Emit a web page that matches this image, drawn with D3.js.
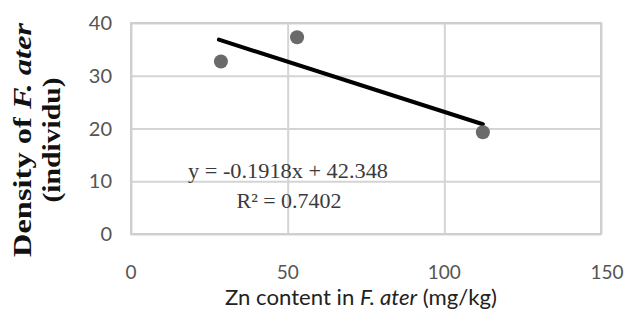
<!DOCTYPE html>
<html>
<head>
<meta charset="utf-8">
<script src="https://cdn.jsdelivr.net/npm/d3@7"></script>
<style>
  body { margin: 0; background: #fff; }
  svg { display: block; }
</style>
</head>
<body>
<svg></svg>
<script>
// DATA ////////////////////////////////////////////////////////////////////////
const znContent = [28.7, 53, 112.3];   // mg/kg
const density = [32.7, 37.3, 19.3];    // individu
const xTicks = [0, 50, 100, 150];
const yTicks = [0, 10, 20, 30, 40];
const slope = -0.1918;
const intercept = 42.348;
const eqLabel = 'y = -0.1918x + 42.348';
const r2Label = 'R² = 0.7402';

// SET PARAMETERS //////////////////////////////////////////////////////////////
const svg = d3.select('svg').attr('width', 643).attr('height', 330);
const margin = { top: 23, right: 42, bottom: 96, left: 131 };
const width = 643 - margin.left - margin.right;
const height = 330 - margin.top - margin.bottom;

const g = svg.append('g')
  .attr('transform', `translate(${margin.left},${margin.top})`);

const x = d3.scaleLinear().domain([0, 150]).range([0, width]);
const y = d3.scaleLinear().domain([0, 40]).range([height, 0]);

// gridlines
g.append('g')
  .call(d3.axisLeft(y).tickValues(yTicks).tickSize(-width).tickFormat(''))
  .call(a => a.select('.domain').remove())
  .selectAll('line').attr('stroke', '#d4d4d4').attr('stroke-width', 2);

g.append('g')
  .attr('transform', `translate(0,${height})`)
  .call(d3.axisBottom(x).tickValues(xTicks).tickSize(-height).tickFormat(''))
  .call(a => a.select('.domain').remove())
  .selectAll('line').attr('stroke', '#d4d4d4').attr('stroke-width', 2);

// plot border
g.append('rect')
  .attr('width', width).attr('height', height)
  .attr('fill', 'none').attr('stroke', '#cfcfcf').attr('stroke-width', 2);

// tick labels
g.selectAll('.ylab')
  .data(yTicks)
  .enter().append('text')
  .attr('x', -19)
  .attr('y', d => y(d) + 7)
  .attr('text-anchor', 'end')
  .attr('font-family', 'Lato, sans-serif')
  .attr('font-size', 20)
  .attr('fill', '#555')
  .text(d => d);

g.selectAll('.xlab')
  .data(xTicks)
  .enter().append('text')
  .attr('x', d => x(d) + (d === 150 ? 6 : 0))
  .attr('y', height + 45)
  .attr('text-anchor', 'middle')
  .attr('font-family', 'Lato, sans-serif')
  .attr('font-size', 19)
  .attr('fill', '#555')
  .text(d => d);

// trend line
const xr = d3.extent(znContent);
g.append('line')
  .attr('x1', x(xr[0]) - 2).attr('y1', y(slope * xr[0] + intercept))
  .attr('x2', x(xr[1])).attr('y2', y(slope * xr[1] + intercept))
  .attr('stroke', '#000').attr('stroke-width', 4).attr('stroke-linecap', 'round');

// points
g.selectAll('.dot')
  .data(znContent)
  .enter().append('circle')
  .attr('cx', d => x(d))
  .attr('cy', (d, i) => y(density[i]))
  .attr('r', 7)
  .attr('fill', '#6a6a6a');

// equation
g.append('text')
  .attr('x', 157).attr('y', 155)
  .attr('text-anchor', 'middle')
  .attr('font-family', '"Liberation Serif", serif')
  .attr('font-size', 21)
  .attr('fill', '#3a3a3a')
  .attr('textLength', 200).attr('lengthAdjust', 'spacingAndGlyphs')
  .text(eqLabel);

g.append('text')
  .attr('x', 158).attr('y', 185)
  .attr('text-anchor', 'middle')
  .attr('font-family', '"Liberation Serif", serif')
  .attr('font-size', 21)
  .attr('fill', '#3a3a3a')
  .attr('textLength', 105).attr('lengthAdjust', 'spacingAndGlyphs')
  .text(r2Label);

// x axis title
const xt = svg.append('text')
  .attr('x', 361).attr('y', 305)
  .attr('text-anchor', 'middle')
  .attr('font-family', 'Lato, sans-serif')
  .attr('font-size', 22)
  .attr('fill', '#222')
  .attr('textLength', 272).attr('lengthAdjust', 'spacingAndGlyphs');
xt.append('tspan').text('Zn content in ');
xt.append('tspan').attr('font-style', 'italic').text('F. ater');
xt.append('tspan').text(' (mg/kg)');

// y axis title
const yt = svg.append('text')
  .attr('transform', 'translate(31,140) rotate(-90)')
  .attr('text-anchor', 'middle')
  .attr('font-family', '"Liberation Serif", serif')
  .attr('font-weight', 'bold')
  .attr('font-size', 26)
  .attr('fill', '#111')
  .attr('textLength', 234).attr('lengthAdjust', 'spacingAndGlyphs');
yt.append('tspan').text('Density of ');
yt.append('tspan').attr('font-style', 'italic').text('F. ater');

svg.append('text')
  .attr('transform', 'translate(60,140) rotate(-90)')
  .attr('text-anchor', 'middle')
  .attr('font-family', '"Liberation Serif", serif')
  .attr('font-weight', 'bold')
  .attr('font-size', 26)
  .attr('fill', '#111')
  .attr('textLength', 125).attr('lengthAdjust', 'spacingAndGlyphs')
  .text('(individu)');
</script>
</body>
</html>
